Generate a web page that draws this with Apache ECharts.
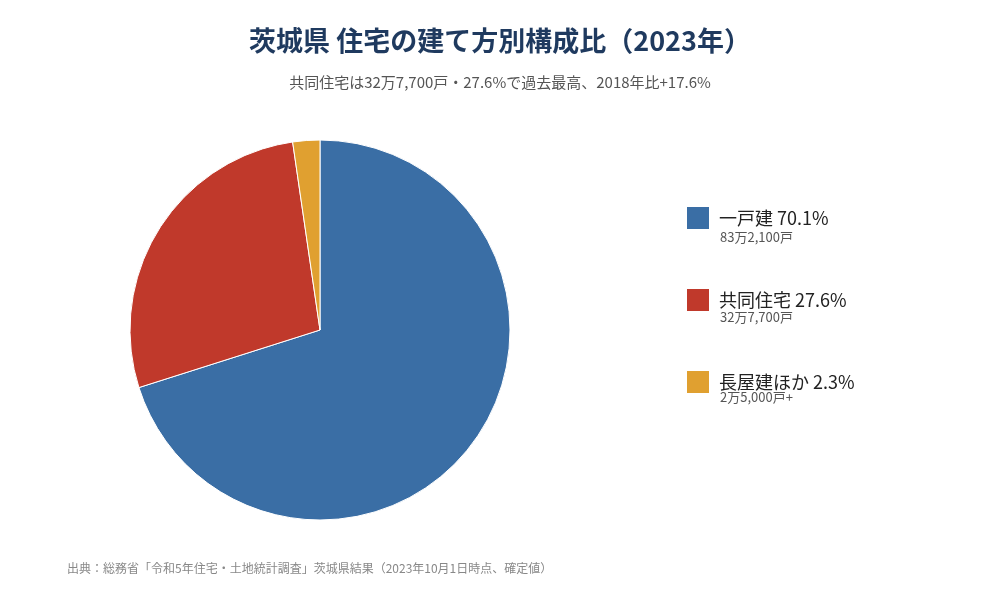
<!DOCTYPE html>
<html><head><meta charset="utf-8">
<script src="https://cdn.jsdelivr.net/npm/echarts@6/dist/echarts.min.js"></script>
<style>html,body{margin:0;background:#fff}#c{width:1000px;height:600px}</style>
</head><body><div id="c"></div>
<script>
const categories = ['一戸建', '共同住宅', '長屋建ほか'];
const shares = [70.1, 27.6, 2.3];
const counts = ['83万2,100戸', '32万7,700戸', '2万5,000戸+'];
const colors = ['#3a6ea5', '#c0392b', '#e0a030'];

const font = '"Noto Sans CJK JP","Noto Sans",sans-serif';
const chart = echarts.init(document.getElementById('c'));
const legendTop = 200, gap = 80;
chart.setOption({
  animation: false,
  textStyle: { fontFamily: font },
  title: [
    { text: '茨城県 住宅の建て方別構成比（2023年）', left: 'center', top: 22,
      textStyle: { fontSize: 27, fontWeight: 'bold', color: '#1f3a5f', fontFamily: font } },
    { text: '共同住宅は32万7,700戸・27.6%で過去最高、2018年比+17.6%', left: 'center', top: 70,
      textStyle: { fontSize: 15, fontWeight: 'normal', color: '#555', fontFamily: font } },
    { text: '出典：総務省「令和5年住宅・土地統計調査」茨城県結果（2023年10月1日時点、確定値）', left: 62, top: 557,
      textStyle: { fontSize: 12, fontWeight: 'normal', color: '#888', fontFamily: font } }
  ].concat(counts.map((t, i) => ({
    text: t, left: 715, top: legendTop + 26 + i * gap,
    textStyle: { fontSize: 13, fontWeight: 'normal', color: '#555', fontFamily: font }
  }))),
  legend: {
    orient: 'vertical', left: 680, top: legendTop, itemWidth: 24, itemHeight: 24,
    itemGap: gap - 24, icon: 'rect',
    data: categories,
    formatter: n => n + ' ' + shares[categories.indexOf(n)].toFixed(1) + '%',
    textStyle: { fontSize: 18, color: '#222', fontFamily: font, padding: [0, 0, 0, 4] }
  },
  series: [{
    type: 'pie', center: [320, 330], radius: 190, startAngle: 90, clockwise: true,
    label: { show: false }, labelLine: { show: false },
    itemStyle: { borderColor: '#fff', borderWidth: 1 },
    data: categories.map((c, i) => ({ name: c, value: shares[i], itemStyle: { color: colors[i] } }))
  }]
});
</script></body></html>
